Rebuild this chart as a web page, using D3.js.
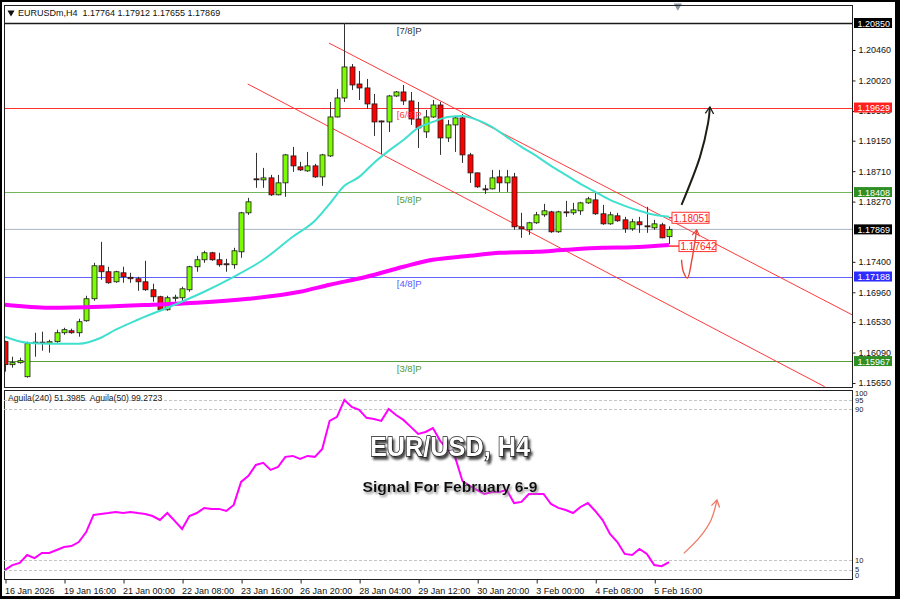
<!DOCTYPE html>
<html>
<head>
<meta charset="utf-8">
<script src="https://cdnjs.cloudflare.com/ajax/libs/d3/7.8.5/d3.min.js"></script>
<style>
body { margin: 0; background: #fff; }
svg text { font-family: "Liberation Sans", Arial, sans-serif; }
</style>
</head>
<body>
<div class="vis"></div>
<script>
// ---- data ----
const symbolInfo = "EURUSDm,H4  1.17764 1.17912 1.17655 1.17869";
const indInfo = "Aguila(240) 51.3985  Aguila(50) 99.2723";

const opens = [1.16247,1.15915,1.15944,1.15741,1.16232,1.16240,1.16225,1.16247,1.16376,1.16405,
  1.16376,1.16549,1.16867,1.17343,1.17257,1.17112,1.17242,1.17177,1.17156,1.17112,
  1.16997,1.16896,1.16708,1.16874,1.16881,1.16997,1.17329,1.17430,1.17531,1.17430,
  1.17372,1.17358,1.17545,1.18108,1.18599,1.18584,1.18613,1.18368,1.18541,1.18930,
  1.18772,1.18714,1.18786,1.18627,1.18930,1.19493,1.19767,1.20215,1.19969,1.19912,
  1.19681,1.19435,1.19421,1.19796,1.19854,1.19724,1.19464,1.19277,1.19493,1.19666,
  1.19190,1.19378,1.19479,1.18945,1.18685,1.18454,1.18454,1.18627,1.18541,1.18627,
  1.17906,1.17863,1.17964,1.18079,1.18122,1.17834,1.18122,1.18108,1.18137,1.18252,
  1.18295,1.18094,1.17949,1.18065,1.18007,1.17877,1.17978,1.17920,1.17891,1.17935,
  1.17764];
const highs = [1.16261,1.16030,1.16016,1.16247,1.16376,1.16391,1.16275,1.16420,1.16448,1.16434,
  1.16578,1.16910,1.17386,1.17689,1.17329,1.17271,1.17329,1.17242,1.17184,1.17415,
  1.17084,1.16910,1.16910,1.16925,1.17040,1.17343,1.17487,1.17560,1.17545,1.17531,
  1.17444,1.17603,1.18122,1.18324,1.18974,1.18757,1.18656,1.18656,1.18959,1.19060,
  1.18844,1.18988,1.18815,1.18959,1.19710,1.19897,1.20850,1.20258,1.20157,1.20042,
  1.19825,1.19440,1.19811,1.19868,1.19955,1.19854,1.19710,1.19594,1.19738,1.19710,
  1.19450,1.19493,1.19536,1.18974,1.18690,1.18512,1.18728,1.18728,1.18728,1.18685,
  1.18108,1.17978,1.18122,1.18238,1.18137,1.18137,1.18281,1.18252,1.18267,1.18339,
  1.18396,1.18223,1.18122,1.18108,1.18050,1.18021,1.18050,1.18195,1.18007,1.17964,
  1.17912];
const lows = [1.15814,1.15872,1.15929,1.15727,1.16030,1.16117,1.16088,1.16232,1.16347,1.16362,
  1.16319,1.16535,1.16838,1.17141,1.17084,1.17098,1.17098,1.17098,1.16982,1.16982,
  1.16824,1.16694,1.16694,1.16824,1.16809,1.16968,1.17257,1.17386,1.17415,1.17329,
  1.17257,1.17300,1.17459,1.18079,1.18469,1.18469,1.18353,1.18360,1.18339,1.18700,
  1.18714,1.18700,1.18613,1.18498,1.18916,1.19485,1.19710,1.19883,1.19738,1.19609,
  1.19219,1.18959,1.19277,1.19782,1.19666,1.19378,1.19046,1.19190,1.19479,1.18945,
  1.19132,1.18988,1.18829,1.18541,1.18469,1.18382,1.18447,1.18411,1.18411,1.17863,
  1.17747,1.17790,1.17949,1.18050,1.17819,1.17819,1.18050,1.18079,1.18079,1.18238,
  1.18079,1.17935,1.17935,1.17978,1.17819,1.17848,1.17819,1.17819,1.17863,1.17740,
  1.17655];
const closes = [1.15915,1.15944,1.15973,1.16218,1.16240,1.16225,1.16247,1.16376,1.16420,1.16376,
  1.16535,1.16867,1.17343,1.17257,1.17098,1.17257,1.17184,1.17156,1.17112,1.16997,
  1.16896,1.16708,1.16881,1.16889,1.17011,1.17329,1.17430,1.17531,1.17430,1.17358,
  1.17365,1.17560,1.18108,1.18267,1.18592,1.18613,1.18368,1.18541,1.18945,1.18786,
  1.18728,1.18786,1.18627,1.18945,1.19493,1.19767,1.20215,1.19955,1.19912,1.19681,
  1.19421,1.19421,1.19796,1.19854,1.19724,1.19464,1.19334,1.19493,1.19666,1.19190,
  1.19378,1.19479,1.18945,1.18685,1.18483,1.18447,1.18613,1.18541,1.18627,1.17906,
  1.17877,1.17964,1.18079,1.18137,1.17834,1.18122,1.18115,1.18151,1.18252,1.18310,
  1.18094,1.17949,1.18079,1.17993,1.17877,1.17978,1.17935,1.17906,1.17949,1.17747,
  1.17869];

// moving averages (bar index, price)
const maFastIdx = [0,3,6,10,13,15,18,23,27,31,35,39,42,44,46,48,50,52,54,56,58,60,62,64,66,68,70,72,74,76,78,80,82,84,86,88,90];
const maFastVal = [1.16319,1.16232,1.16218,1.16218,1.16304,1.16420,1.16564,1.16780,1.16968,1.17184,1.17430,1.17762,1.17993,1.18238,1.18498,1.18627,1.18829,1.19003,1.19161,1.19334,1.19421,1.19493,1.19508,1.19450,1.19349,1.19205,1.19060,1.18930,1.18786,1.18656,1.18526,1.18411,1.18295,1.18209,1.18137,1.18079,1.18051];
const maSlowIdx = [0,6,13,20,26,33,40,44,49,54,58,63,67,72,76,81,85,90];
const maSlowVal = [1.16780,1.16737,1.16751,1.16780,1.16809,1.16867,1.16968,1.17069,1.17184,1.17329,1.17430,1.17487,1.17531,1.17545,1.17574,1.17603,1.17610,1.17642];

// Murrey math levels
const levelPrices = [1.20850, 1.19629, 1.18408, 1.17188, 1.15967];
const levelNames = ["[7/8]P", "[6/8]P", "[5/8]P", "[4/8]P", "[3/8]P"];
const lastPrice = 1.17869;
const priceTicks = [1.20460,1.20020,1.19580,1.19150,1.18710,1.18270,1.17400,1.16960,1.16530,1.16090,1.15650];

// channel lines [bar index, price]
const channelUpper = [[43.9, 1.20561], [114.8, 1.16636]];
const channelLower = [[32.9, 1.19969], [111.1, 1.15597]];

// hand drawn arrows
const arrowBlack = [[91.7, 1.18223], [94.2, 1.18916], [95.3, 1.19407], [95.55, 1.19637]];
const arrowRed = [[91.7, 1.17430], [91.95, 1.17257], [92.5, 1.17166], [93.1, 1.17430], [93.75, 1.17863]];
const arrowInd = [[92.0, 13.6], [94.2, 22.3], [95.7, 31.3], [96.5, 41.9]];

// indicator
const aguila = [4.8,7.4,8.5,12.7,11.1,13.8,13.8,15.4,17.0,17.5,
  19.6,24.9,34.0,34.5,35.0,35.6,35.0,35.6,35.0,34.5,
  33.4,31.3,35.0,30.8,26.5,33.4,35.0,37.7,37.2,37.2,
  36.1,39.3,51.5,54.7,60.5,61.6,57.9,59.4,64.8,65.3,
  63.7,65.3,64.8,69.0,83.9,86.0,95.0,91.3,89.7,85.5,
  84.9,83.9,90.2,87.0,84.4,80.7,77.0,78.0,80.1,73.2,
  68.5,64.8,52.0,49.4,47.2,45.1,46.2,46.2,47.2,40.3,
  40.9,45.1,45.1,45.1,39.8,37.7,36.6,35.0,38.2,40.3,
  36.1,31.3,23.9,19.6,13.3,12.7,15.9,13.3,7.4,6.8,
  9.0];
const indLevels = [95, 90, 10, 5];
const indLabels = [100, 95, 90, 10, 5, 0];

// time axis
const timeIdx = [0, 8, 16, 24, 32, 40, 48, 56, 64, 72, 80, 88];
const timeLabels = ["16 Jan 2026","19 Jan 16:00","21 Jan 00:00","22 Jan 08:00","23 Jan 16:00","26 Jan 20:00",
  "28 Jan 04:00","29 Jan 12:00","30 Jan 20:00","3 Feb 00:00","4 Feb 08:00","5 Feb 16:00"];

const titleText = "EUR/USD, H4";
const subTitle = "Signal For February 6-9";

// ---- styles ----
const levelColors = ["#1a1a1a", "#ff3030", "#74b45c", "#6262ff", "#5a9e3c"];
const levelTextColors = ["#333333", "#ff4040", "#4f9a35", "#5a5aff", "#4f9a35"];
const levelBoxColors = ["#000000", "#ff2020", "#2f8f25", "#2d2dff", "#2f8f25"];
const upColor = "#7cfc00", downColor = "#ff0000";

// ---- layout ----
const W = 900, H = 599;
const L = 4, R = 852, mainTop = 5, mainBot = 387, indTop = 390, indBot = 579;

const svg = d3.select(".vis").append("svg").attr("width", W).attr("height", H);
const defs = svg.append("defs");

svg.append("rect").attr("width", W).attr("height", H).attr("fill", "#000");
svg.append("rect").attr("x", 2).attr("y", 2).attr("width", 893).attr("height", 594).attr("fill", "#fff");

const x = d3.scaleLinear().domain([0, 90]).range([5, 669]);
const y = d3.scaleLinear().domain([1.15650, 1.20460]).range([383, 50]);
const yi = d3.scaleLinear().domain([0, 100]).range([579, 390.5]);

defs.append("clipPath").attr("id", "clipMain").append("rect")
  .attr("x", L).attr("y", mainTop).attr("width", R - L).attr("height", mainBot - mainTop);
defs.append("clipPath").attr("id", "clipInd").append("rect")
  .attr("x", L).attr("y", indTop).attr("width", R - L).attr("height", indBot - indTop);

const mk = (id, color, sz) => {
  defs.append("marker").attr("id", id).attr("viewBox", "-10 -6 12 12")
    .attr("refX", 0).attr("refY", 0).attr("markerWidth", sz).attr("markerHeight", sz)
    .attr("markerUnits", "userSpaceOnUse").attr("orient", "auto")
    .append("path").attr("d", "M-8,-5 L0,0 L-8,5").attr("fill", "none")
    .attr("stroke", color).attr("stroke-width", 1.6);
};
mk("headBlack", "#1e1e16", 10);
mk("headRed", "#e8453a", 9);
mk("headInd", "#f07a66", 10);

const shadow = (id, dx, dy, sd, col) => {
  defs.append("filter").attr("id", id).attr("x", "-10%").attr("y", "-30%").attr("width", "130%").attr("height", "170%")
    .append("feDropShadow").attr("dx", dx).attr("dy", dy).attr("stdDeviation", sd)
    .attr("flood-color", col).attr("flood-opacity", 0.9);
};
shadow("shadowBig", 2, 3, 1.2, "#333");
shadow("shadowSmall", 1.5, 2, 1, "#888");

// ---- main pane ----
const main = svg.append("g").attr("clip-path", "url(#clipMain)");

// current price line
main.append("line").attr("x1", L).attr("x2", R).attr("y1", y(lastPrice)).attr("y2", y(lastPrice))
  .attr("stroke", "#a9b4c0").attr("stroke-width", 1);

levelPrices.forEach((p, i) => {
  main.append("line").attr("x1", L).attr("x2", R).attr("y1", Math.round(y(p)) + 0.5).attr("y2", Math.round(y(p)) + 0.5)
    .attr("stroke", levelColors[i]).attr("stroke-width", i === 0 ? 1.5 : 1);
});

// channel
[channelUpper, channelLower].forEach(c => {
  main.append("line").attr("x1", x(c[0][0])).attr("y1", y(c[0][1]))
    .attr("x2", x(c[1][0])).attr("y2", y(c[1][1]))
    .attr("stroke", "#ff3a3a").attr("stroke-width", 1);
});

// candles
const bars = d3.range(opens.length);
const cw = 5;
const cg = main.append("g");
cg.selectAll("line.wick").data(bars).join("line").attr("class", "wick")
  .attr("x1", i => Math.round(x(i)) + 0.5).attr("x2", i => Math.round(x(i)) + 0.5)
  .attr("y1", i => y(highs[i])).attr("y2", i => y(lows[i]))
  .attr("stroke", "#333").attr("stroke-width", 1);
cg.selectAll("rect.body").data(bars).join("rect").attr("class", "body")
  .attr("x", i => Math.round(x(i)) + 0.5 - cw / 2)
  .attr("y", i => y(Math.max(opens[i], closes[i])))
  .attr("width", cw)
  .attr("height", i => Math.max(1, Math.abs(y(opens[i]) - y(closes[i]))))
  .attr("fill", i => closes[i] >= opens[i] ? upColor : downColor)
  .attr("stroke", "#1a1a1a").attr("stroke-width", 0.8);

// moving averages
const maLine = d3.line().x(d => x(d[0])).y(d => y(d[1])).curve(d3.curveMonotoneX);
main.append("path").datum(maSlowIdx.map((d, i) => [d, maSlowVal[i]]))
  .attr("d", maLine).attr("fill", "none").attr("stroke", "#ff00ff").attr("stroke-width", 4);
main.append("path").datum(maFastIdx.map((d, i) => [d, maFastVal[i]]))
  .attr("d", maLine).attr("fill", "none").attr("stroke", "#40e0d0").attr("stroke-width", 2);

// level names on top of the candles
levelPrices.forEach((p, i) => {
  main.append("text").attr("x", x(53.1)).attr("y", y(p) + 10.5)
    .attr("fill", levelTextColors[i]).style("font-size", "9.5px").text(levelNames[i]);
});

// value boxes at MA ends
const lastI = opens.length - 1;
const boxes = [[maFastVal[maFastVal.length - 1], 3], [maSlowVal[maSlowVal.length - 1], 10]];
boxes.forEach(([v, off]) => {
  const bx = x(lastI) + off, by = y(v) + 1;
  main.append("line").attr("x1", x(lastI)).attr("x2", bx).attr("y1", by).attr("y2", by)
    .attr("stroke", "#ff3030").attr("stroke-width", 1.5);
  main.append("rect").attr("x", bx).attr("y", by - 5.5).attr("width", 37).attr("height", 11)
    .attr("fill", "#fff").attr("stroke", "#ff3030").attr("stroke-width", 1);
  main.append("text").attr("x", bx + 1.5).attr("y", by + 3.8).attr("fill", "#ff2020")
    .style("font-size", "10px").text(v.toFixed(5));
});

// arrows
const curve = d3.line().x(d => x(d[0])).y(d => y(d[1])).curve(d3.curveCatmullRom);
main.append("path").datum(arrowBlack).attr("d", curve).attr("fill", "none")
  .attr("stroke", "#1e1e16").attr("stroke-width", 2).attr("marker-end", "url(#headBlack)");
main.append("path").datum(arrowRed).attr("d", curve).attr("fill", "none")
  .attr("stroke", "#e8453a").attr("stroke-width", 1.4).attr("marker-end", "url(#headRed)");

// header
svg.append("path").attr("d", d3.symbol(d3.symbolTriangle, 22)())
  .attr("transform", "translate(11,12.5) rotate(180)").attr("fill", "#111");
svg.append("text").attr("x", 18).attr("y", 16).style("font-size", "9px").style("white-space", "pre")
  .attr("fill", "#111").text(symbolInfo);
svg.append("path").attr("d", d3.symbol(d3.symbolTriangle, 30)())
  .attr("transform", `translate(${x(91.2)},6) rotate(180)`).attr("fill", "#8a96a4");

// pane frames
svg.append("rect").attr("x", L + 0.5).attr("y", mainTop + 0.5).attr("width", R - L).attr("height", mainBot - mainTop)
  .attr("fill", "none").attr("stroke", "#222");
svg.append("rect").attr("x", L + 0.5).attr("y", indTop + 0.5).attr("width", R - L).attr("height", indBot - indTop)
  .attr("fill", "none").attr("stroke", "#222");

// price axis
const pAxis = svg.append("g").attr("transform", `translate(${R + 0.5},0)`)
  .call(d3.axisRight(y).tickValues(priceTicks).tickFormat(d3.format(".5f")).tickSize(3).tickPadding(3));
pAxis.select(".domain").remove();
pAxis.selectAll("text").style("font-size", "9px").attr("fill", "#111").attr("font-family", "Liberation Sans, Arial, sans-serif");
pAxis.selectAll("line").attr("stroke", "#222");

const axisBoxes = levelPrices.map((p, i) => [p, levelBoxColors[i]]);
axisBoxes.splice(3, 0, [lastPrice, "#000"]);
axisBoxes.forEach(([p, c]) => {
  const yy = y(p);
  svg.append("rect").attr("x", R + 2).attr("y", yy - 5).attr("width", 38).attr("height", 10).attr("fill", c);
  svg.append("text").attr("x", R + 5.5).attr("y", yy + 3.5).attr("fill", "#fff")
    .style("font-size", "9px").text(p.toFixed(5));
});

// ---- indicator pane ----
const ind = svg.append("g").attr("clip-path", "url(#clipInd)");
indLevels.forEach(v => {
  ind.append("line").attr("x1", L).attr("x2", R).attr("y1", Math.round(yi(v)) + 0.5).attr("y2", Math.round(yi(v)) + 0.5)
    .attr("stroke", "#c4c4c4").attr("stroke-dasharray", "3,2");
});
ind.append("path").datum(aguila)
  .attr("d", d3.line().x((d, i) => x(i)).y(d => yi(d)))
  .attr("fill", "none").attr("stroke", "#ff00ff").attr("stroke-width", 2);

ind.append("path").datum(arrowInd)
  .attr("d", d3.line().x(d => x(d[0])).y(d => yi(d[1])).curve(d3.curveCatmullRom))
  .attr("fill", "none").attr("stroke", "#f07a66").attr("stroke-width", 1.3).attr("marker-end", "url(#headInd)");

svg.append("text").attr("x", 8).attr("y", 401).style("font-size", "8.6px").style("white-space", "pre")
  .attr("fill", "#222").text(indInfo);

indLabels.forEach(v => {
  const yy = Math.min(Math.max(yi(v), 393), 575.5);
  svg.append("text").attr("x", R + 3).attr("y", yy + 2.6).style("font-size", "7.5px").attr("fill", "#222").text(v);
});

// big titles
const tx = 450;
svg.append("text").attr("x", tx).attr("y", 456).attr("text-anchor", "middle")
  .attr("textLength", 160).attr("lengthAdjust", "spacingAndGlyphs")
  .style("font-size", "28px").style("font-weight", "bold").attr("fill", "#fff")
  .attr("stroke", "#111").attr("stroke-width", 1.4).attr("paint-order", "stroke")
  .attr("filter", "url(#shadowBig)").text(titleText);
svg.append("text").attr("x", tx).attr("y", 492).attr("text-anchor", "middle")
  .attr("textLength", 175).attr("lengthAdjust", "spacingAndGlyphs")
  .style("font-size", "15px").style("font-weight", "bold").attr("fill", "#111")
  .attr("filter", "url(#shadowSmall)").text(subTitle);

// time axis
const tAxis = svg.append("g").attr("transform", `translate(0,${indBot + 0.5})`)
  .call(d3.axisBottom(x).tickValues(timeIdx).tickFormat((d, i) => timeLabels[i]).tickSize(4).tickPadding(4));
tAxis.select(".domain").remove();
tAxis.selectAll("line").attr("stroke", "#222").attr("transform", "translate(0.5,0)");
tAxis.selectAll("text").attr("text-anchor", "start").attr("dx", "-0.5")
  .style("font-size", "9px").attr("fill", "#111").attr("font-family", "Liberation Sans, Arial, sans-serif");
</script>
</body>
</html>
